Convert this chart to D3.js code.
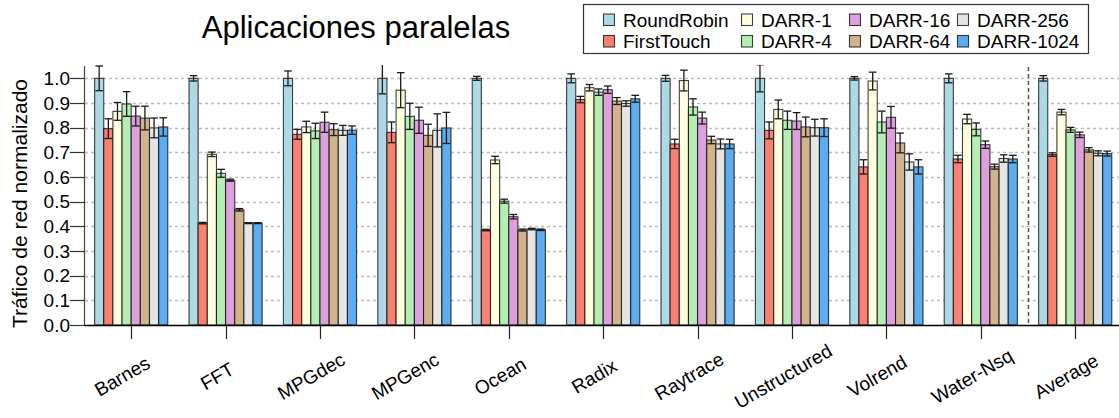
<!DOCTYPE html>
<html>
<head>
<meta charset="utf-8">
<script src="https://cdn.jsdelivr.net/npm/d3@7"></script>
<style>
  html, body { margin: 0; padding: 0; background: #fff; }
  svg { display: block; font-family: "Liberation Sans", Arial, sans-serif; }
</style>
</head>
<body>
<svg id="chart" width="1119" height="418"></svg>
<script>
// Benchmarks (last one is the average over all applications)
const apps = ["Barnes", "FFT", "MPGdec", "MPGenc", "Ocean", "Radix", "Raytrace",
              "Unstructured", "Volrend", "Water-Nsq", "Average"];

// Mapping policies
const policies = ["RoundRobin", "FirstTouch", "DARR-1", "DARR-4",
                  "DARR-16", "DARR-64", "DARR-256", "DARR-1024"];

const policyColors = ["#ADD8E6", "#FA8072", "#FFFFE0", "#B4EEB4",
                      "#DDA0DD", "#D2B48C", "#E5E5E5", "#5CACEE"];

// Normalized network traffic, one array per policy (same order as apps)
const roundRobin = [1.000, 1.000, 1.000, 1.000, 1.000, 1.000, 1.000, 1.000, 1.000, 1.000, 1.000];
const firstTouch = [0.796, 0.413, 0.773, 0.781, 0.385, 0.914, 0.734, 0.789, 0.641, 0.673, 0.691];
const darr1      = [0.866, 0.692, 0.803, 0.952, 0.669, 0.962, 0.991, 0.874, 0.989, 0.835, 0.863];
const darr4      = [0.896, 0.615, 0.787, 0.846, 0.502, 0.944, 0.884, 0.830, 0.823, 0.793, 0.791];
const darr16     = [0.847, 0.587, 0.822, 0.830, 0.439, 0.954, 0.839, 0.827, 0.842, 0.731, 0.771];
const darr64     = [0.839, 0.467, 0.792, 0.769, 0.385, 0.908, 0.750, 0.803, 0.738, 0.642, 0.710];
const darr256    = [0.799, 0.413, 0.789, 0.789, 0.389, 0.898, 0.734, 0.800, 0.661, 0.675, 0.696];
const darr1024   = [0.803, 0.413, 0.790, 0.799, 0.386, 0.917, 0.734, 0.800, 0.641, 0.673, 0.695];

// Error half-widths (same layout)
const errRoundRobin = [0.050, 0.011, 0.030, 0.063, 0.008, 0.018, 0.012, 0.055, 0.007, 0.018, 0.011];
const errFirstTouch = [0.040, 0.003, 0.020, 0.042, 0.003, 0.013, 0.019, 0.034, 0.029, 0.015, 0.007];
const errDarr1      = [0.036, 0.009, 0.023, 0.071, 0.015, 0.013, 0.042, 0.038, 0.036, 0.019, 0.011];
const errDarr4      = [0.050, 0.016, 0.031, 0.053, 0.008, 0.013, 0.033, 0.037, 0.044, 0.026, 0.010];
const errDarr16     = [0.040, 0.004, 0.041, 0.053, 0.009, 0.015, 0.024, 0.034, 0.044, 0.015, 0.011];
const errDarr64     = [0.048, 0.005, 0.024, 0.045, 0.004, 0.014, 0.015, 0.040, 0.040, 0.010, 0.009];
const errDarr256    = [0.040, 0.002, 0.020, 0.067, 0.003, 0.011, 0.020, 0.034, 0.033, 0.015, 0.010];
const errDarr1024   = [0.037, 0.002, 0.017, 0.063, 0.003, 0.014, 0.019, 0.036, 0.029, 0.015, 0.010];

const yTicks = [0.0, 0.1, 0.2, 0.3, 0.4, 0.5, 0.6, 0.7, 0.8, 0.9, 1.0];

const values = [roundRobin, firstTouch, darr1, darr4, darr16, darr64, darr256, darr1024];
const errors = [errRoundRobin, errFirstTouch, errDarr1, errDarr4, errDarr16, errDarr64, errDarr256, errDarr1024];

const rows = [];
apps.forEach((app, i) => {
  policies.forEach((p, j) => {
    rows.push({ app, policy: p, color: policyColors[j], value: values[j][i], err: errors[j][i] });
  });
});

const svg = d3.select("#chart");
const W = 1119;
const plotLeft = 84, plotBottom = 325, plotTop = 66;

const x0 = d3.scaleBand().domain(apps).range([plotLeft, plotLeft + apps.length * 94.4]).paddingInner(0).paddingOuter(0);
const x1 = d3.scaleBand().domain(policies).range([0, x0.bandwidth()]).paddingInner(0).paddingOuter(1.16);
const y = d3.scaleLinear().domain([0, 1.05]).range([plotBottom, plotTop]);

svg.append("defs").append("clipPath").attr("id", "plotclip")
  .append("rect").attr("x", plotLeft).attr("y", plotTop - 1).attr("width", W - plotLeft).attr("height", plotBottom - plotTop + 1);

// Horizontal dotted grid
svg.append("g").selectAll("line").data(yTicks.filter(d => d > 0)).join("line")
  .attr("x1", plotLeft + 1).attr("x2", W)
  .attr("y1", d => Math.round(y(d)) + 0.5).attr("y2", d => Math.round(y(d)) + 0.5)
  .attr("stroke", "#bdbdbd").attr("stroke-width", 1.3).attr("stroke-dasharray", "3,3");

// Separator before the average group
const sepX = x0("Average");
svg.append("line")
  .attr("x1", sepX + 0.5).attr("x2", sepX + 0.5).attr("y1", plotTop + 1).attr("y2", plotBottom)
  .attr("stroke", "#555").attr("stroke-width", 1.5).attr("stroke-dasharray", "4,3");

// Bars
const plot = svg.append("g").attr("clip-path", "url(#plotclip)");
plot.selectAll("rect.bar").data(rows).join("rect").attr("class", "bar")
  .attr("x", d => x0(d.app) + x1(d.policy))
  .attr("y", d => y(d.value))
  .attr("width", x1.bandwidth())
  .attr("height", d => y(0) - y(d.value))
  .attr("fill", d => d.color)
  .attr("stroke", "rgba(0,0,0,0.75)").attr("stroke-width", 1.1);

// Error bars
const capW = 3.8;
const eb = plot.selectAll("g.err").data(rows).join("g").attr("class", "err")
  .attr("transform", d => `translate(${x0(d.app) + x1(d.policy) + x1.bandwidth() / 2},0)`)
  .attr("stroke", "#1a1a1a").attr("stroke-width", 1.3);
eb.append("line").attr("x1", 0).attr("x2", 0)
  .attr("y1", d => y(d.value + d.err)).attr("y2", d => y(d.value - d.err));
eb.append("line").attr("x1", -capW).attr("x2", capW)
  .attr("y1", d => y(d.value + d.err)).attr("y2", d => y(d.value + d.err));
eb.append("line").attr("x1", -capW).attr("x2", capW)
  .attr("y1", d => y(d.value - d.err)).attr("y2", d => y(d.value - d.err));

// Y axis
const yAxis = svg.append("g");
yAxis.append("line").attr("x1", plotLeft + 0.5).attr("x2", plotLeft + 0.5).attr("y1", plotTop).attr("y2", plotBottom + 0.5)
  .attr("stroke", "#444").attr("stroke-width", 1.2);
yAxis.selectAll("line.tick").data(yTicks).join("line").attr("class", "tick")
  .attr("x1", plotLeft - 14).attr("x2", plotLeft)
  .attr("y1", d => Math.round(y(d)) + 0.5).attr("y2", d => Math.round(y(d)) + 0.5)
  .attr("stroke", "#333").attr("stroke-width", 1.2);
yAxis.selectAll("text").data(yTicks).join("text")
  .attr("x", plotLeft - 14).attr("y", d => y(d))
  .attr("dy", "0.35em").attr("text-anchor", "end")
  .attr("font-size", 19).attr("fill", "#000")
  .text(d => d.toFixed(1));

// X axis baseline and ticks
svg.append("line").attr("x1", plotLeft).attr("x2", W).attr("y1", plotBottom + 0.5).attr("y2", plotBottom + 0.5)
  .attr("stroke", "#000").attr("stroke-width", 1.3);
const xTicks = svg.append("g").selectAll("g").data(apps).join("g")
  .attr("transform", d => `translate(${Math.round(x0(d) + x0.bandwidth() / 2) + 0.5},${plotBottom})`);
xTicks.append("line").attr("y1", 0).attr("y2", 14).attr("stroke", "#222").attr("stroke-width", 1.2);
xTicks.append("text")
  .attr("transform", "translate(-6,57) rotate(-30)")
  .attr("text-anchor", "middle").attr("font-size", 19).attr("fill", "#000")
  .text(d => d);

// Y axis title
svg.append("text")
  .attr("transform", `translate(27,${(plotTop + plotBottom) / 2 + 8}) rotate(-90)`)
  .attr("text-anchor", "middle").attr("font-size", 21).attr("fill", "#000")
  .text("Tráfico de red normalizado");

// Chart title
svg.append("text").attr("x", 356).attr("y", 38).attr("text-anchor", "middle")
  .attr("font-size", 31).attr("fill", "#000").text("Aplicaciones paralelas");

// Legend
const legend = svg.append("g");
legend.append("rect").attr("x", 583.5).attr("y", 4.5).attr("width", 505).attr("height", 49)
  .attr("fill", "#fff").attr("stroke", "#333").attr("stroke-width", 1.2);
const legCols = [603, 741, 849, 957];
const legRows = [26.5, 48];
const legItems = legend.selectAll("g").data(policies).join("g")
  .attr("transform", (d, i) => `translate(${legCols[Math.floor(i / 2)]},${legRows[i % 2]})`);
legItems.append("rect").attr("x", 0.5).attr("y", -12.5).attr("width", 11).attr("height", 11.5)
  .attr("fill", (d, i) => policyColors[i]).attr("stroke", "rgba(0,0,0,0.75)").attr("stroke-width", 1.1);
legItems.append("text").attr("x", 20).attr("y", 0).attr("font-size", 19).attr("fill", "#000").text(d => d);
</script>
</body>
</html>
